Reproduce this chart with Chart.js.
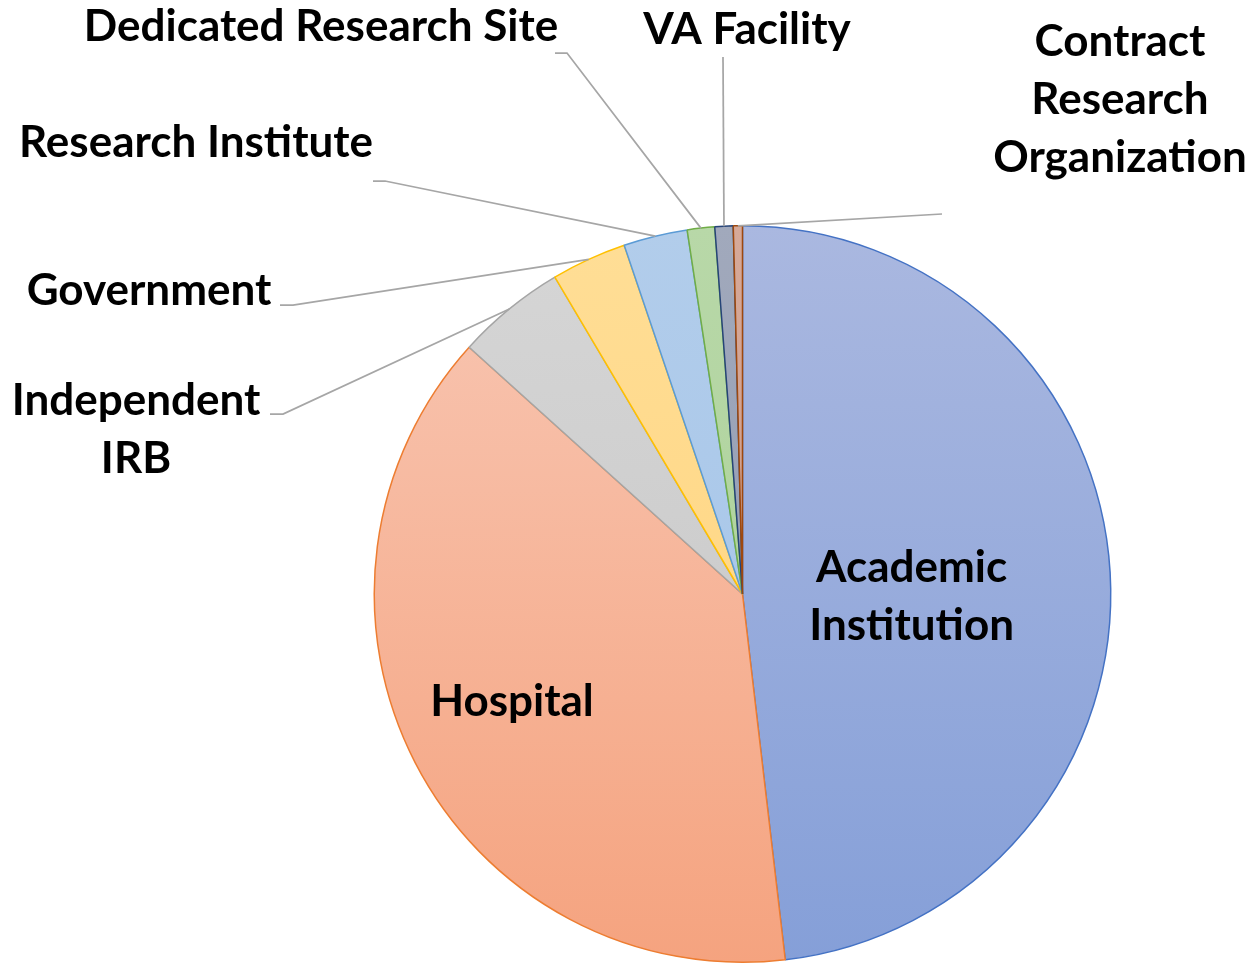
<!DOCTYPE html>
<html>
<head>
<meta charset="utf-8">
<script src="https://cdn.jsdelivr.net/npm/chart.js@4"></script>
<style>
  body { margin: 0; background: #fff; }
  canvas { display: block; }
</style>
</head>
<body>
<canvas id="pieChart" width="1252" height="964"></canvas>
<script>
// Data
const categories = [
  'Academic Institution', 'Hospital', 'Independent IRB', 'Government',
  'Research Institute', 'Dedicated Research Site', 'VA Facility', 'Contract Research Organization'
];
const shares = [48.1, 38.5, 4.8, 3.3, 2.8, 1.2, 0.8, 0.4];

// Colours (border = base, fill = light top / darker bottom)
const borderColors = ['#4472C4', '#ED7D31', '#A5A5A5', '#FFC000', '#5B9BD5', '#70AD47', '#264478', '#9E480E'];
const fillTop = ['#AAB8E0', '#F8C7B4', '#D6D6D6', '#FFDE96', '#B2CDEB', '#B8D8A8', '#A1A9BC', '#D6A999'];
const fillBottom = ['#859FD8', '#F5A37F', '#C4C4C4', '#FFD27A', '#A2C3E8', '#A8CF95', '#8D97AD', '#C89482'];

// Label text lines, and where each label sits
const labelLines = [
  ['Academic', 'Institution'], ['Hospital'], ['Independent', 'IRB'], ['Government'],
  ['Research Institute'], ['Dedicated Research Site'], ['VA Facility'], ['Contract', 'Research', 'Organization']
];
// inside labels: fraction of radius along mid angle (+ nudge); outside: text centre + elbow
const labelLayout = [
  { inside: 0.46, dx: 0, dy: 13 },
  { inside: 0.68, dx: -8, dy: -7 },
  { x: 136, y: 401, elbow: [[270, 414], [283, 414]] },
  { x: 149, y: 291, elbow: [[280, 305], [293, 305]] },
  { x: 196, y: 143, elbow: [[373, 181], [385, 181]] },
  { x: 321, y: 27, elbow: [[555, 53], [567, 53]] },
  { x: 747, y: 30, elbow: [[723, 57]] },
  { x: 1120, y: 42, elbow: [[942, 214]] }
];

const LINE_H = 58;
const FONT = 'bold 44px Lato, "Noto Sans", sans-serif';

function sliceFill(context) {
  const chart = context.chart;
  const area = chart.chartArea;
  if (!area) return fillTop[context.dataIndex];
  const g = chart.ctx.createLinearGradient(0, area.top, 0, area.bottom);
  g.addColorStop(0, fillTop[context.dataIndex]);
  g.addColorStop(1, fillBottom[context.dataIndex]);
  return g;
}

const pieLabels = {
  id: 'pieLabels',
  afterDraw(chart) {
    const ctx = chart.ctx;
    const arcs = chart.getDatasetMeta(0).data;
    ctx.save();
    ctx.font = FONT;
    ctx.fillStyle = '#000';
    ctx.textAlign = 'center';
    ctx.textBaseline = 'middle';
    arcs.forEach((arc, i) => {
      const mid = (arc.startAngle + arc.endAngle) / 2;
      const lay = labelLayout[i];
      const lines = labelLines[i];
      if (lay.inside) {
        const r = arc.outerRadius * lay.inside;
        const cx = arc.x + Math.cos(mid) * r + lay.dx;
        const cy = arc.y + Math.sin(mid) * r + lay.dy;
        const y0 = cy - (lines.length - 1) * LINE_H / 2;
        lines.forEach((t, k) => ctx.fillText(t, cx, y0 + k * LINE_H));
        return;
      }
      // leader line from the label elbow to the slice edge
      const ex = arc.x + Math.cos(mid) * arc.outerRadius;
      const ey = arc.y + Math.sin(mid) * arc.outerRadius;
      ctx.strokeStyle = '#A6A6A6';
      ctx.lineWidth = 1.75;
      ctx.beginPath();
      lay.elbow.forEach((p, k) => k === 0 ? ctx.moveTo(p[0], p[1]) : ctx.lineTo(p[0], p[1]));
      ctx.lineTo(ex, ey);
      ctx.stroke();
      lines.forEach((t, k) => ctx.fillText(t, lay.x, lay.y + k * LINE_H));
    });
    ctx.restore();
  }
};

new Chart(document.getElementById('pieChart'), {
  type: 'pie',
  data: {
    labels: categories,
    datasets: [{
      data: shares,
      backgroundColor: sliceFill,
      borderColor: borderColors,
      borderWidth: 1.5,
      hoverOffset: 0,
      offset: 0
    }]
  },
  options: {
    responsive: false,
    animation: false,
    layout: { padding: { left: 373, right: 140, top: 225, bottom: 1 } },
    plugins: {
      legend: { display: false },
      tooltip: { enabled: false }
    }
  },
  plugins: [pieLabels]
});
</script>
</body>
</html>
